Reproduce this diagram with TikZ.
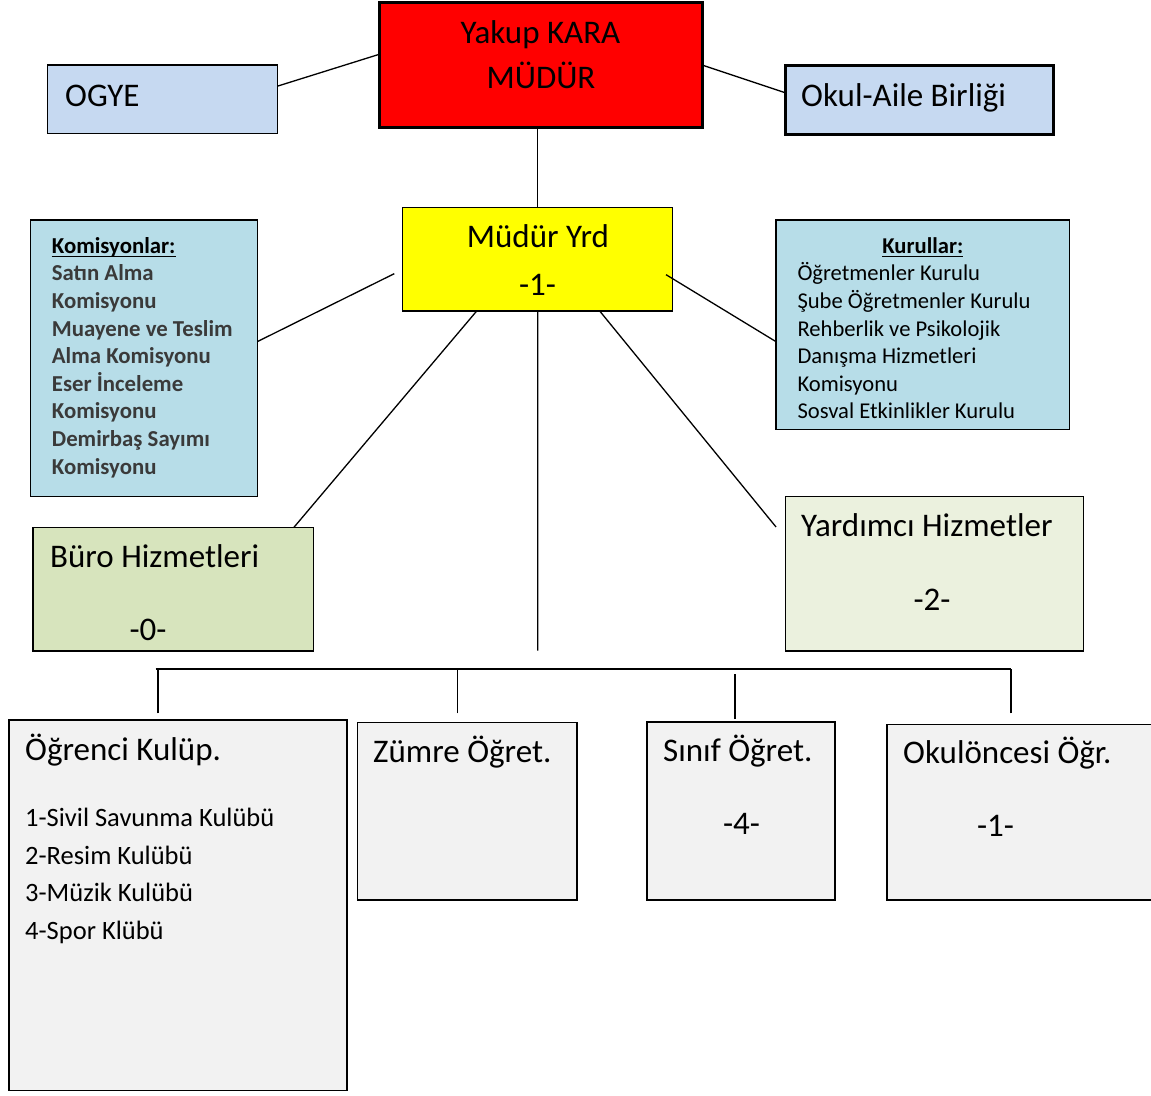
\documentclass[tikz,border=0pt]{standalone}
\usepackage{fontspec}
\setmainfont{Carlito}

\definecolor{mudurred}{HTML}{FF0000}
\definecolor{yrdyellow}{HTML}{FFFF00}
\definecolor{paleblue}{HTML}{C6D9F1}
\definecolor{kurulblue}{HTML}{B7DDE8}
\definecolor{burogreen}{HTML}{D7E4BD}
\definecolor{yardimgreen}{HTML}{EBF1DE}
\definecolor{sinifgray}{HTML}{F2F2F2}
\definecolor{komgray}{HTML}{3A3A3A}

\begin{document}
\begin{tikzpicture}[x=1pt, y=-1pt,
    box/.style={draw, line width=1.5pt, anchor=north west, inner sep=0pt, outer sep=0pt},
    thickbox/.style={box, line width=3pt},
    bigtext/.style={inner sep=0pt, font=\fontsize{33}{40}\selectfont},
    kurultext/.style={inner sep=0pt, anchor=base west, font=\fontsize{22.6}{27.6}\selectfont},
    komtext/.style={kurultext, text=komgray, font=\fontsize{22.8}{27.6}\selectfont\bfseries},
    listtext/.style={inner sep=0pt, anchor=base west, font=\fontsize{26.5}{37.5}\selectfont},
    underbar/.style={line width=1.5pt},
    link/.style={line width=1.3pt}]
    \useasboundingbox (0,0) rectangle (1151,1095);

    % top row: mudur in the middle, ogye and okul-aile on the sides
    \node[thickbox, fill=mudurred, minimum width=323pt, minimum height=125pt] (mudur) at (379.6,2.7) {};
    \node[bigtext, anchor=base] (mudurname) at (540.5,43.6) {Yakup KARA};
    \node[bigtext, anchor=base] (mudurtitle) at (541,88.6) {MÜDÜR};
    \node[box, fill=paleblue, minimum width=229.8pt, minimum height=68.3pt] (ogye) at (47.7,65) {};
    \node[bigtext, anchor=base west] (ogyetext) at (65,106) {OGYE};
    \node[thickbox, fill=paleblue, minimum width=268pt, minimum height=68.3pt] (okul) at (785.6,65.7) {};
    \node[bigtext, anchor=base west] (okultext) at (801,106.7) {Okul-Aile Birliği};

    % mudur yardimcisi
    \node[box, fill=yrdyellow, minimum width=270pt, minimum height=103.7pt] (yrd) at (402.7,207.3) {};
    \node[bigtext, anchor=base] (yrdtext) at (538,247.7) {Müdür Yrd};
    \node[bigtext, anchor=base] (yrdnum) at (537.5,295) {-1-};

    % komisyonlar
    \node[box, fill=kurulblue, minimum width=226.6pt, minimum height=276.7pt] (komisyon) at (30.7,220) {};
    \node[komtext, text=black] (komtitle) at (51.7,253.3) {Komisyonlar:};
    \draw[underbar] ([yshift=-3.4pt]komtitle.base west) -- ([yshift=-3.4pt]komtitle.base east);
    \foreach \txt [count=\i] in {Satın Alma, Komisyonu, Muayene ve Teslim, Alma Komisyonu,
        Eser İnceleme, Komisyonu, Demirbaş Sayımı, Komisyonu}
        \node[komtext] (kom\i) at (51.7,{253.3+27.6*\i}) {\txt};

    % kurullar
    \node[box, fill=kurulblue, minimum width=293.3pt, minimum height=209.3pt] (kurul) at (776,220) {};
    \node[kurultext, anchor=base, font=\fontsize{22.6}{27.6}\selectfont\bfseries] (kurtitle) at (922.8,253.3) {Kurullar:};
    \draw[underbar] ([yshift=-3.4pt]kurtitle.base west) -- ([yshift=-3.4pt]kurtitle.base east);
    \foreach \txt [count=\i] in {Öğretmenler Kurulu, Şube Öğretmenler Kurulu, Rehberlik ve Psikolojik,
        Danışma Hizmetleri, Komisyonu, Sosval Etkinlikler Kurulu}
        \node[kurultext] (kur\i) at (797.3,{253.3+27.6*\i}) {\txt};

    % hizmetler
    \node[box, fill=burogreen, minimum width=280.5pt, minimum height=123.7pt] (buro) at (33,527.3) {};
    \node[bigtext, anchor=base west] (burotext) at (50,567.7) {Büro Hizmetleri};
    \node[bigtext, anchor=base] (buronum) at (148,640) {-0-};
    \node[box, fill=yardimgreen, minimum width=298.1pt, minimum height=154.3pt] (yardimci) at (785.6,496.7) {};
    \node[bigtext, anchor=base west] (yardimtext) at (801,536.7) {Yardımcı Hizmetler};
    \node[bigtext, anchor=base] (yardimnum) at (932,610) {-2-};

    % ogretmenler ve kulupler
    \node[box, fill=sinifgray, minimum width=338.2pt, minimum height=370.7pt] (kulup) at (8.8,720) {};
    \node[bigtext, anchor=base west] (kuluptext) at (25,760) {Öğrenci Kulüp.};
    \foreach \txt [count=\i] in {1-Sivil Savunma Kulübü, 2-Resim Kulübü, 3-Müzik Kulübü, 4-Spor Klübü}
        \node[listtext] (club\i) at (25,{789.2+37.5*\i}) {\txt};
    \node[box, fill=sinifgray, minimum width=219.4pt, minimum height=177.7pt] (zumre) at (357.6,722.3) {};
    \node[bigtext, anchor=base west] (zumretext) at (373,762.7) {Zümre Öğret.};
    \node[box, fill=sinifgray, minimum width=188pt, minimum height=178pt] (sinif) at (646.8,722) {};
    \node[bigtext, anchor=base west] (siniftext) at (663,761.7) {Sınıf Öğret.};
    \node[bigtext, anchor=base] (sinifnum) at (741.6,834.3) {-4-};
    \node[box, fill=sinifgray, minimum width=290pt, minimum height=175.7pt] (okuloncesi) at (887,724.3) {};
    \node[bigtext, anchor=base west] (oktext) at (903,763.3) {Okulöncesi Öğr.};
    \node[bigtext, anchor=base] (oknum) at (995.6,836.7) {-1-};

    % connectors
    \draw[link] ([yshift=13pt]ogye.east) -- ([yshift=11pt]mudur.west);
    \draw[link] (mudur.east) -- ([yshift=7pt]okul.west);
    \draw[link] (yrd.north |- mudur.south) -- (yrd.north);
    \draw[link] ([yshift=16.7pt]komisyon.east) -- ([xshift=-8.4pt,yshift=-14.5pt]yrd.west);
    \draw[link] ([xshift=-6.7pt,yshift=-15.5pt]yrd.east) -- ([yshift=-17pt]kurul.west);
    \draw[link] ([xshift=-61pt]yrd.south) -- ([xshift=120.7pt]buro.north);
    \draw[link] ([xshift=62pt]yrd.south) -- ([xshift=-9.6pt,yshift=46.9pt]yardimci.west);

    % trunk and bus to the lower boxes
    \coordinate (trunk) at (537.8,650.7);
    \coordinate (busL) at (155.6,669);
    \coordinate (busR) at (1011,669);
    \draw[link] (yrd.south) -- (trunk);
    \draw[link] (busL) -- (busR);
    \draw[link] ([xshift=-20pt,yshift=6.7pt]kulup.north) -- ++(0,-44.3);
    \draw[link] ([xshift=-9.9pt,yshift=9pt]zumre.north) -- ++(0,-44.3);
    \draw[link] ([xshift=-5.8pt,yshift=3pt]sinif.north) -- ++(0,-45);
    \draw[link] ([xshift=-21pt,yshift=11pt]okuloncesi.north) -- ++(0,-44.3);

\end{tikzpicture}
\end{document}
